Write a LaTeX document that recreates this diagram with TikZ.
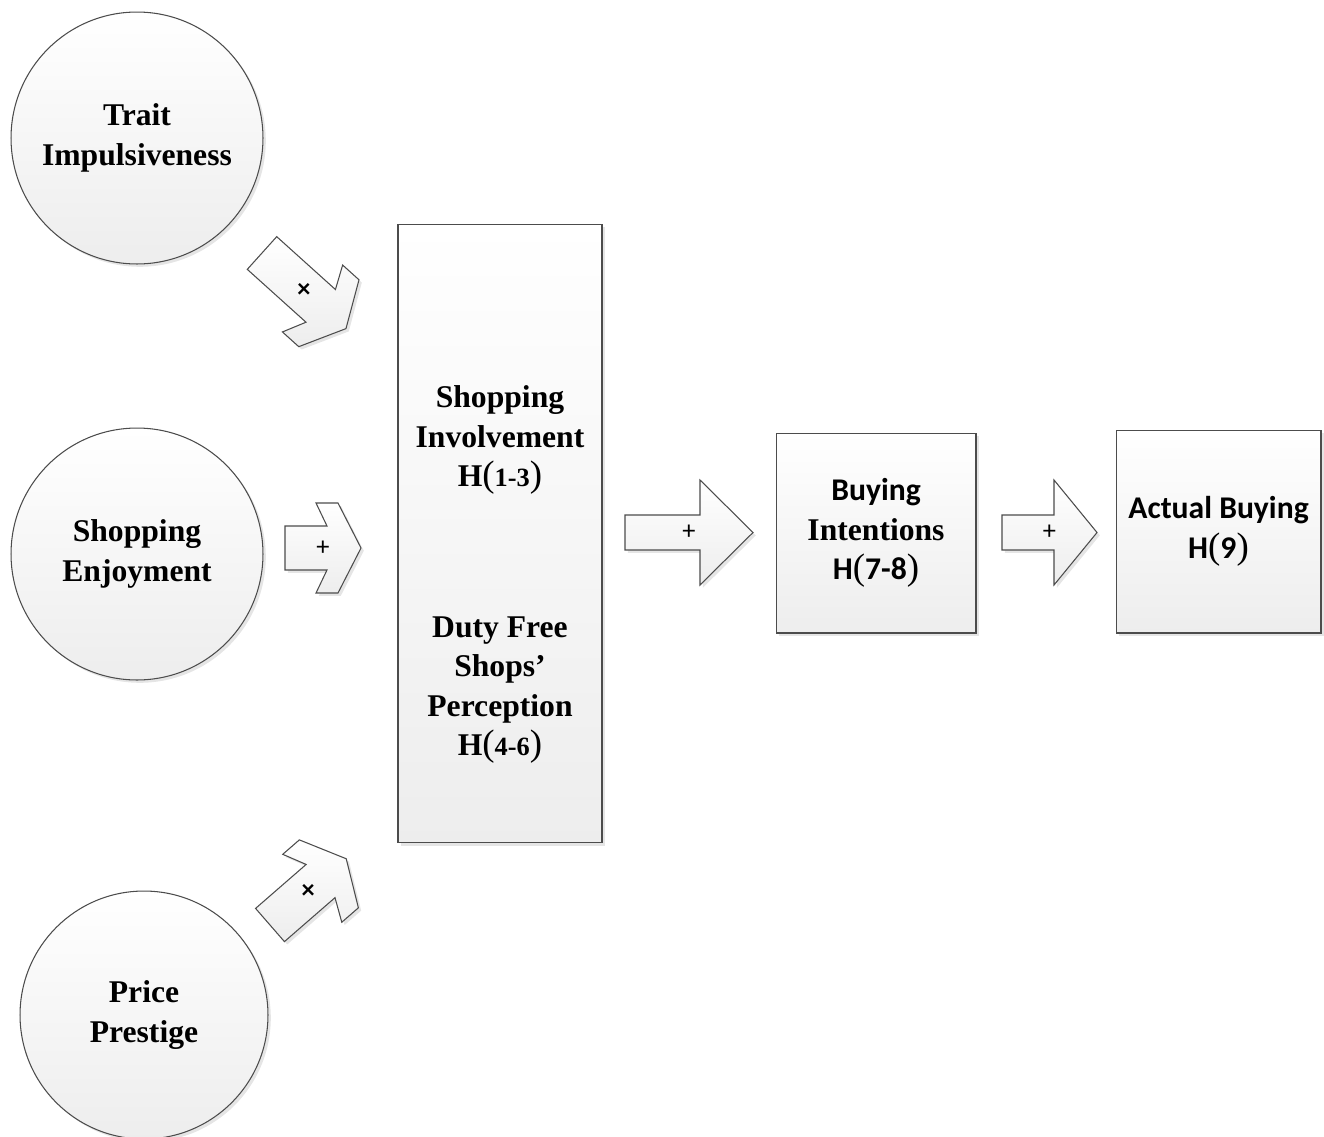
\documentclass[tikz,border=0pt]{standalone}
\usepackage{fontspec}
\setmainfont{Liberation Serif}
\newfontfamily\calibri{Carlito}
\usetikzlibrary{shadows}
\newcommand\bigpar[1]{{\mdseries\fontsize{21}{21}\selectfont#1}}
\newcommand\hyp[1]{H\bigpar{(}{\fontsize{15}{15}\selectfont#1}\bigpar{)}}
\newcommand\hypc[1]{{\calibri H}\bigpar{(}{\calibri#1}\bigpar{)}}

\begin{document}
\begin{tikzpicture}[
    x=0.02cm, y=-0.02cm,
    surface/.style={draw=black!70, line width=0.6pt, top color=white, bottom color=gray!14,
      drop shadow={shadow xshift=1.6pt, shadow yshift=-1.6pt, fill=black!20}},
    factor/.style={surface, circle, minimum size=5.04cm, inner sep=0pt, align=center, font=\bfseries\fontsize{18}{22.5}\selectfont},
    stage/.style={surface, rectangle, inner sep=0pt},
    caption/.style={align=center, font=\bfseries\fontsize{18}{22.5}\selectfont},
    sign/.style={font=\calibri\fontsize{15}{15}\selectfont, inner sep=1pt},
    pics/chev/.style 2 args={code={
      \draw[surface] (0,-22) -- (#1,-22) -- (#1-11,-45) -- (#1+11,-45) -- (#1+34,0)
        -- (#1+11,45) -- (#1-11,45) -- (#1,22) -- (0,22) -- cycle;
      \node[sign] (-sign) at ({(#1+34)/2},0) {#2};}},
    pics/blockarr/.style 2 args={code={
      \draw[surface] (0,-17.5) -- (#1,-17.5) -- (#1,-52.5) -- (#2,0)
        -- (#1,52.5) -- (#1,17.5) -- (0,17.5) -- cycle;
      \node[sign] (-sign) at ({#2/2},0) {+};}}]
  \useasboundingbox (0,0) rectangle (1324,1136);
  % antecedents
  \node[factor] (trait) at (137,138) {Trait\\Impulsiveness};
  \node[factor] (enjoy) at (137,554) {Shopping\\Enjoyment};
  \node[factor, minimum size=4.96cm] (price) at (144,1015) {Price\\Prestige};
  % mediators
  \node[stage, minimum width=4.08cm, minimum height=12.38cm] (core) at (500,533.5) {};
  \node[caption] (invol) at (500,440) {Shopping\\Involvement\\\hyp{1-3}};
  \node[caption] (dfs) at (500,690) {Duty Free\\Shops’\\Perception\\\hyp{4-6}};
  % outcomes
  \node[stage, caption, minimum width=4cm, minimum height=4cm] (intent) at (876,533) {{\calibri Buying}\\Intentions\\\hypc{7-8}};
  \node[stage, caption, minimum width=4.1cm, minimum height=4.06cm] (actual) at (1218.5,531.5) {{\calibri Actual Buying}\\\hypc{9}};
  % block arrows
  \pic[rotate=-42] (arrT) at (262,253) {chev={79}{\bfseries ×}};
  \pic (arrE) at (285,548) {chev={42}{+}};
  \pic[rotate=41] (arrP) at (270,925) {chev={67}{\bfseries ×}};
  \pic (arrI) at (625,532.5) {blockarr={75}{128}};
  \pic (arrA) at (1002,532.5) {blockarr={52}{95}};
\end{tikzpicture}
\end{document}
